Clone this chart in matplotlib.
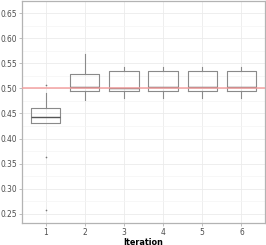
import matplotlib
matplotlib.use('Agg')
import matplotlib.pyplot as plt
from matplotlib import font_manager

iterations = ['1', '2', '3', '4', '5', '6']
q1 = [0.431, 0.495, 0.495, 0.495, 0.495, 0.495]
med = [0.443, 0.503, 0.500, 0.503, 0.503, 0.503]
q3 = [0.460, 0.529, 0.535, 0.534, 0.534, 0.534]
wlo = [0.431, 0.476, 0.480, 0.481, 0.481, 0.481]
whi = [0.491, 0.568, 0.543, 0.543, 0.543, 0.543]
outliers = [[0.506, 0.363, 0.257], [], [], [], [], []]
ref_value = 0.5

names = sorted({f.name for f in font_manager.fontManager.ttflist})
print(names)
plt.rcParams['font.family'] = ['DejaVu Sans']
plt.rcParams['font.stretch'] = 'condensed'

fig = plt.figure(figsize=(2.66, 2.45), dpi=100)
ax = fig.add_axes([0.083, 0.09, 0.913, 0.906])

stats = []
for i in range(len(iterations)):
    stats.append({'label': iterations[i], 'q1': q1[i], 'med': med[i], 'q3': q3[i],
                  'whislo': wlo[i], 'whishi': whi[i], 'fliers': outliers[i]})

pos = list(range(1, len(iterations) + 1))
ax.bxp(stats, positions=pos, widths=0.75, showcaps=False,
       boxprops=dict(color='#8a8a8a', linewidth=0.8),
       whiskerprops=dict(color='#8a8a8a', linewidth=0.8),
       medianprops=dict(color='#555555', linewidth=1.0),
       flierprops=dict(marker='o', markersize=1.2, markerfacecolor='#777777',
                       markeredgecolor='none'),
       zorder=3)

ax.axhline(ref_value, color='#f4a0a0', linewidth=1.2, alpha=0.9, zorder=4)

ax.set_xlim(0.4, 6.6)
ax.set_ylim(0.232, 0.674)
ax.set_yticks([0.25, 0.30, 0.35, 0.40, 0.45, 0.50, 0.55, 0.60, 0.65])
ax.set_yticks([0.275, 0.325, 0.375, 0.425, 0.475, 0.525, 0.575, 0.625], minor=True)
ax.set_xticks(pos)
ax.set_xticklabels(iterations)
ax.grid(True, which='major', color='#ebebeb', linewidth=0.6)
ax.grid(True, which='minor', axis='y', color='#f4f4f4', linewidth=0.5)
ax.set_axisbelow(True)

for s in ax.spines.values():
    s.set_color('#b3b3b3')
    s.set_linewidth(0.9)

ax.tick_params(axis='both', which='major', labelsize=6, labelcolor='#4d4d4d',
               color='#b3b3b3', length=2, width=0.6, pad=1.5)
ax.tick_params(axis='y', which='minor', length=0)
ax.set_yticklabels(['%.2f' % v for v in ax.get_yticks()])
ax.set_xlabel('Iteration', fontsize=6.5, fontweight='bold', labelpad=0.5)

fig.savefig('out.png', dpi=100)
